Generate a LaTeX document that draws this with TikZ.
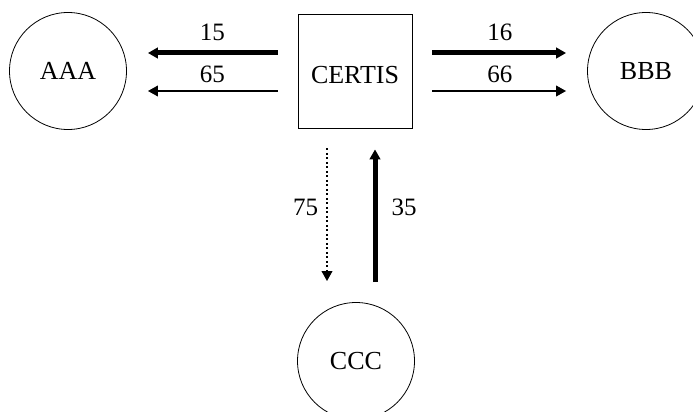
\documentclass[tikz,border=0pt]{standalone}
\usepackage{fontspec}
\setmainfont{Liberation Serif}
\usetikzlibrary{arrows.meta}
\begin{document}
\begin{tikzpicture}[x=1pt, y=-1pt, font=\fontsize{26}{31}\selectfont,
   node_style/.style={draw=black, line width=0.8pt, inner sep=0pt},
   label_style/.style={inner sep=2pt, font=\fontsize{25}{30}\selectfont},
   flow_style/.style={draw=black, -{Triangle[length=10pt,width=10.5pt]}, shorten <=20pt, shorten >=21pt},
   heavy_style/.style={flow_style, line width=5pt},
   light_style/.style={flow_style, line width=2pt},
   dotted_style/.style={flow_style, line width=2pt, dash pattern=on 2pt off 2.5pt}]
	  \useasboundingbox (0,0) rectangle (693,412);
	  \node [circle,node_style,minimum size=117pt] (aaa) at (68,71) {AAA};
	  \node [rectangle,node_style,minimum size=114pt,text height=26pt,text depth=0pt] (certis) at (355,71) {CERTIS};
	  \node [circle,node_style,minimum size=117pt] (bbb) at (646,71) {BBB};
	  \node [circle,node_style,minimum size=117pt] (ccc) at (356,361) {CCC};

	  \draw [heavy_style] ([yshift=18pt]certis.west) -- node[label_style,above=8pt] (l15) {15} ([yshift=18pt]aaa.east);
	  \draw [light_style] ([yshift=-20pt]certis.west) -- node[label_style,above=5pt] (l65) {65} ([yshift=-20pt]aaa.east);
	  \draw [heavy_style] ([yshift=18pt]certis.east) -- node[label_style,above=8pt] (l16) {16} ([yshift=18pt]bbb.west);
	  \draw [light_style] ([yshift=-20pt]certis.east) -- node[label_style,above=5pt] (l66) {66} ([yshift=-20pt]bbb.west);

	  \draw [dotted_style] ([xshift=-28pt]certis.south) -- node[label_style,left=6pt,yshift=8pt] (l75) {75} ([xshift=-29pt]ccc.north);
	  \draw [heavy_style] ([xshift=19pt]ccc.north) -- node[label_style,right=12pt,yshift=8pt] (l35) {35} ([xshift=20pt]certis.south);

	\end{tikzpicture}
\end{document}
